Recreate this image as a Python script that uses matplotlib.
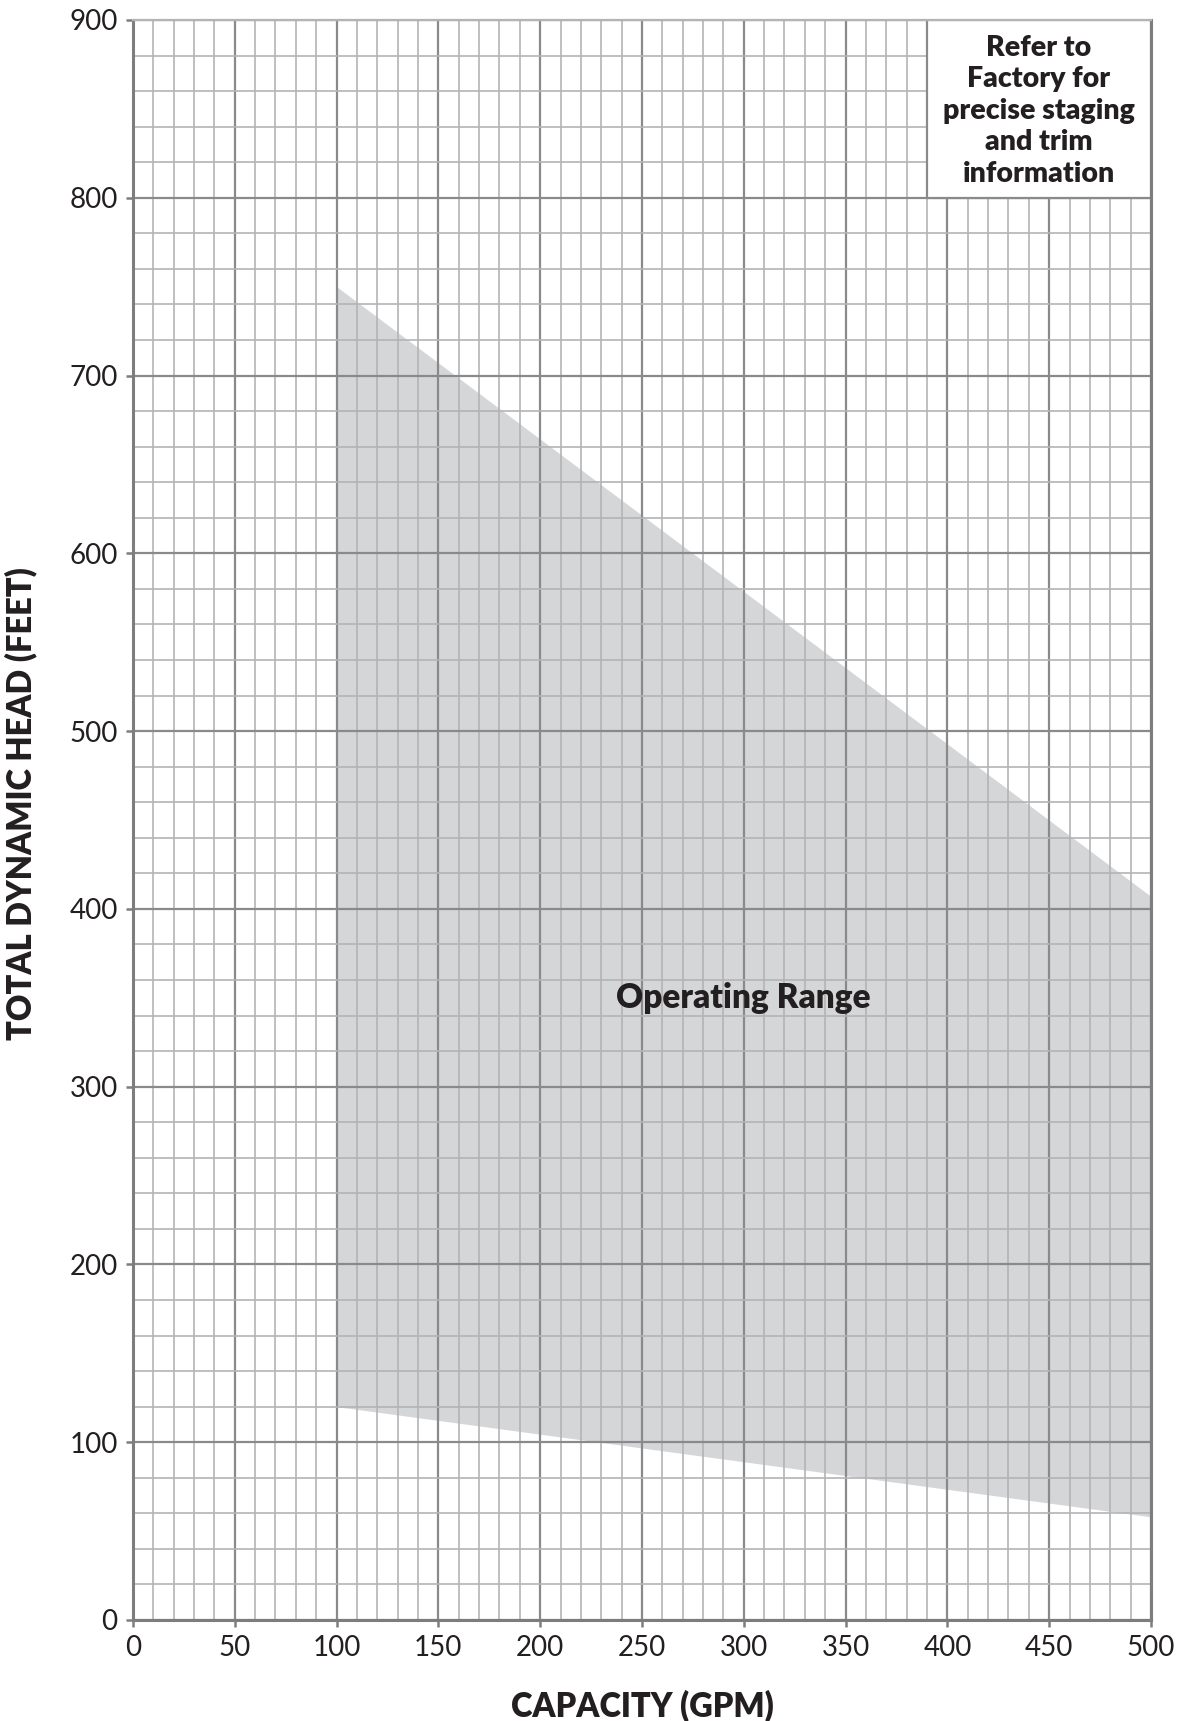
import matplotlib.pyplot as plt
from matplotlib.patches import Rectangle
import numpy as np

# operating range envelope
capacity = [100, 500]
head_max = [750, 407]
head_min = [120, 58]

x_ticks = list(range(0, 501, 50))
y_ticks = list(range(0, 901, 100))
note_text = "Refer to\nFactory for\nprecise staging\nand trim\ninformation"
range_text = "Operating Range"

plt.rcParams['font.family'] = ['Lato', 'DejaVu Sans']

fig = plt.figure(figsize=(11.85, 17.21), dpi=100)
ax = fig.add_axes([0.1122, 0.0587, 0.9713 - 0.1122, 0.9884 - 0.0587])

ax.fill_between(capacity, head_min, head_max, color='#d5d6d8', linewidth=0, zorder=1)

ax.set_xlim(0, 500)
ax.set_ylim(0, 900)
ax.set_xticks(x_ticks)
ax.set_yticks(y_ticks)
ax.set_xticks(np.arange(0, 501, 10), minor=True)
ax.set_yticks(np.arange(0, 901, 20), minor=True)

ax.set_axisbelow('line')
ax.grid(which='major', color='#8a8a8c', linewidth=1.6)
ax.grid(which='minor', color='#b4b4b6', linewidth=1.2)

# note box covers the grid in the top-right corner
box = Rectangle((390, 800), 110, 100, facecolor='white', edgecolor='#8a8a8c',
                linewidth=1.6, zorder=2)
ax.add_patch(box)
ax.text(445, 849, note_text, ha='center', va='center', fontsize=20.5,
        fontweight='heavy', color='#231f20', linespacing=1.26, zorder=3)

ax.text(300, 350, range_text, ha='center', va='center', fontsize=24,
        fontweight='heavy', color='#231f20', zorder=3)

for side in ['left', 'bottom', 'right']:
    ax.spines[side].set_color('#7d7d7f')
    ax.spines[side].set_linewidth(2.2)
ax.spines['top'].set_color('#b4b4b6')
ax.spines['top'].set_linewidth(1.6)

ax.tick_params(which='major', direction='out', length=5, width=1.8,
               color='#7d7d7f', labelsize=20, labelcolor='#231f20', pad=6)
ax.tick_params(which='minor', length=0)

ax.set_xlabel("CAPACITY (GPM)", fontsize=23.5, fontweight='heavy', color='#231f20', labelpad=20)
ax.set_ylabel("TOTAL DYNAMIC HEAD (FEET)", fontsize=23.5, fontweight='heavy', color='#231f20', labelpad=16)
ax.yaxis.set_label_coords(-0.094, 0.51)

fig.savefig("out.png", dpi=100)
